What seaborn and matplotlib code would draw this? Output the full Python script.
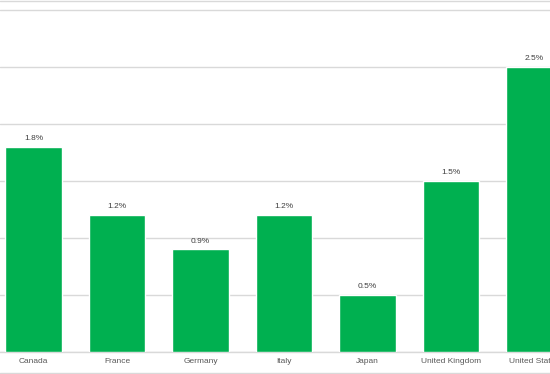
import matplotlib
matplotlib.use("Agg")
import matplotlib.pyplot as plt
import seaborn as sns
import pandas as pd
from matplotlib.lines import Line2D

countries = ["Canada", "France", "Germany", "Italy", "Japan", "United Kingdom", "United States"]
values = [1.8, 1.2, 0.9, 1.2, 0.5, 1.5, 2.5]
labels = ["1.8%", "1.2%", "0.9%", "1.2%", "0.5%", "1.5%", "2.5%"]

df = pd.DataFrame({"country": countries, "value": values})

sns.set_theme(style="white")
plt.rcParams['font.family'] = ['Liberation Sans', 'DejaVu Sans']

W, H = 550, 374
fig = plt.figure(figsize=(W / 100, H / 100), dpi=100)
ax = fig.add_axes([0, (H - 352) / H, 1, 352 / H])

sns.barplot(data=df, x="country", y="value", color="#00B050", width=0.68,
            saturation=1, ax=ax, zorder=3)

step = 83.5
x0 = 33.5
ax.set_xlim(-x0 / step, (W - x0) / step)
ax.set_ylim(0, 352 / 114)
ax.set_yticks([0, 0.5, 1.0, 1.5, 2.0, 2.5, 3.0])
ax.yaxis.grid(True, color="#d9d9d9", linewidth=1, zorder=0)
ax.set_axisbelow(True)
ax.tick_params(axis="y", left=False, labelleft=False)
ax.tick_params(axis="x", bottom=False, length=0, labelsize=6, labelcolor="#595959", pad=4)
ax.set_xlabel("")
ax.set_ylabel("")
for s in ["top", "left", "right"]:
    ax.spines[s].set_visible(False)
ax.spines["bottom"].set_color("#d9d9d9")
ax.spines["bottom"].set_linewidth(1)

for i, (v, lab) in enumerate(zip(values, labels)):
    ax.annotate(lab, (i, v), xytext=(0, 3.5), textcoords="offset points",
                ha="center", va="bottom", fontsize=6, color="#404040")

# outer border lines of the original chart area
fig.add_artist(Line2D([0, 1], [1 - 1 / H, 1 - 1 / H], color="#d9d9d9", lw=1, transform=fig.transFigure))
fig.add_artist(Line2D([0, 1], [1 - 372.5 / H, 1 - 372.5 / H], color="#d9d9d9", lw=1, transform=fig.transFigure))

fig.savefig("out.png", dpi=100)
